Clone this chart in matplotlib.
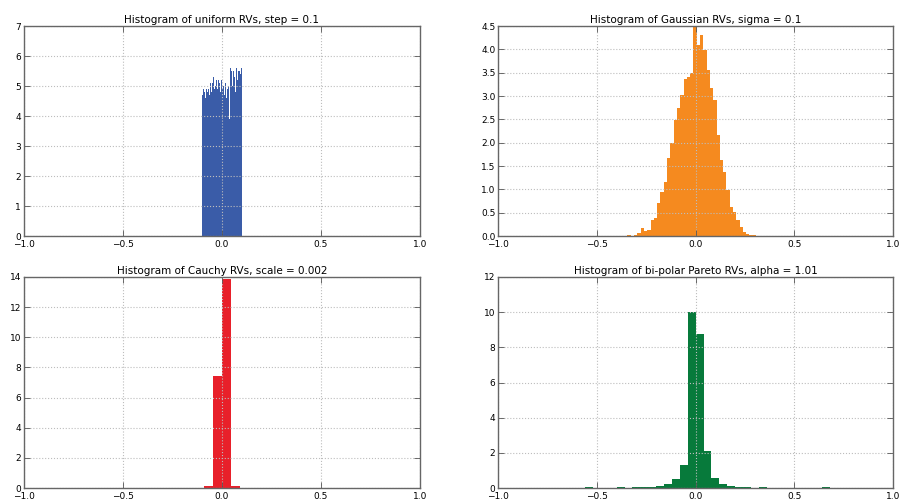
import numpy as np
import matplotlib.pyplot as plt

plt.rcParams['font.family'] = 'DejaVu Sans'
plt.rcParams['font.size'] = 7

# Normalised bin heights for each distribution
uniform_edges = np.linspace(-0.1, 0.1, 51)
uniform_heights = [4.7, 4.9, 4.8, 5.0, 4.6, 4.9, 4.8, 5.0, 4.9, 4.7,
                   5.1, 4.8, 6.3, 5.1, 5.3, 4.9, 5.0, 4.4, 5.2, 4.9,
                   5.2, 5.1, 5.0, 4.8, 5.2, 4.9, 5.0, 5.2, 4.7, 5.1,
                   4.6, 5.3, 4.9, 5.0, 3.9, 5.6, 5.1, 5.5, 5.0, 5.5,
                   5.3, 5.4, 4.8, 5.6, 5.2, 5.5, 5.3, 5.5, 5.4, 5.6]

gauss_edges = -0.412 + 0.0167 * np.arange(51)
gauss_heights = [0.0, 0.01, 0.0, 0.01, 0.02, 0.01, 0.03, 0.06, 0.17, 0.10,
                 0.12, 0.34, 0.38, 0.71, 0.95, 1.16, 1.67, 1.99, 2.48, 2.74,
                 3.02, 3.36, 3.41, 3.50, 4.60, 4.10, 4.30, 3.98, 3.55, 3.17,
                 2.91, 2.16, 1.63, 1.38, 0.98, 0.63, 0.52, 0.34, 0.20, 0.09,
                 0.05, 0.03, 0.02, 0.01, 0.01, 0.0, 0.0, 0.0, 0.0, 0.0]

cauchy_edges = [-0.135, -0.09, -0.045, 0.0, 0.045, 0.09, 0.135]
cauchy_heights = [0.02, 0.10, 7.40, 13.87, 0.15, 0.03]

pareto_edges = -0.80 + 0.04 * np.arange(39)
pareto_heights = [0.0, 0.02, 0.01, 0.01, 0.0, 0.02, 0.03, 0.02, 0.01, 0.02,
                  0.03, 0.02, 0.04, 0.03, 0.06, 0.12, 0.20, 0.50, 1.31, 10.02,
                  8.78, 2.08, 0.59, 0.21, 0.10, 0.06, 0.04, 0.02, 0.03, 0.01,
                  0.02, 0.01, 0.02, 0.01, 0.0, 0.02, 0.03, 0.01]

xticks = [-1.0, -0.5, 0.0, 0.5, 1.0]
xtick_labels = ['\u22121.0', '\u22120.5', '0.0', '0.5', '1.0']

panels = [
    ('Histogram of uniform RVs, step = 0.1', uniform_edges, uniform_heights,
     '#3a5ca8', np.arange(0, 8, 1), '%d'),
    ('Histogram of Gaussian RVs, sigma = 0.1', gauss_edges, gauss_heights,
     '#f58a1f', np.arange(0, 4.6, 0.5), '%.1f'),
    ('Histogram of Cauchy RVs, scale = 0.002', cauchy_edges, cauchy_heights,
     '#e8202a', np.arange(0, 15, 2), '%d'),
    ('Histogram of bi-polar Pareto RVs, alpha = 1.01', pareto_edges, pareto_heights,
     '#077a3b', np.arange(0, 13, 2), '%d'),
]

fig = plt.figure(figsize=(9.04, 5.0), dpi=100)
rects = [
    [0.0265, 0.528, 0.438, 0.420],
    [0.551, 0.528, 0.437, 0.420],
    [0.0265, 0.024, 0.438, 0.422],
    [0.551, 0.024, 0.437, 0.422],
]

for rect, (title, edges, heights, color, yticks, fmt) in zip(rects, panels):
    ax = fig.add_axes(rect)
    edges = np.asarray(edges)
    ax.hist(edges[:-1], bins=edges, weights=heights, histtype='stepfilled',
            color=color, linewidth=0)
    ax.set_xlim(-1.0, 1.0)
    ax.set_ylim(yticks[0], yticks[-1])
    ax.set_xticks(xticks)
    ax.set_xticklabels(xtick_labels)
    ax.set_yticks(yticks)
    ax.set_yticklabels([fmt % t for t in yticks])
    ax.set_title(title, fontsize=7.5, pad=2)
    # classic look: dotted grid over the bars, inward ticks on all sides
    ax.set_axisbelow(False)
    ax.grid(True, color='#bdbdbd', linestyle=':', linewidth=0.8)
    ax.tick_params(direction='in', top=True, right=True, length=4,
                   width=0.6, color='#555555', labelsize=6.5)
    ax.tick_params(axis='x', pad=3)
    ax.tick_params(axis='y', pad=2)
    for sp in ax.spines.values():
        sp.set_color('#666666')
        sp.set_linewidth(1.0)
        sp.set_zorder(3)

fig.savefig('out.png', dpi=100, facecolor='white')
